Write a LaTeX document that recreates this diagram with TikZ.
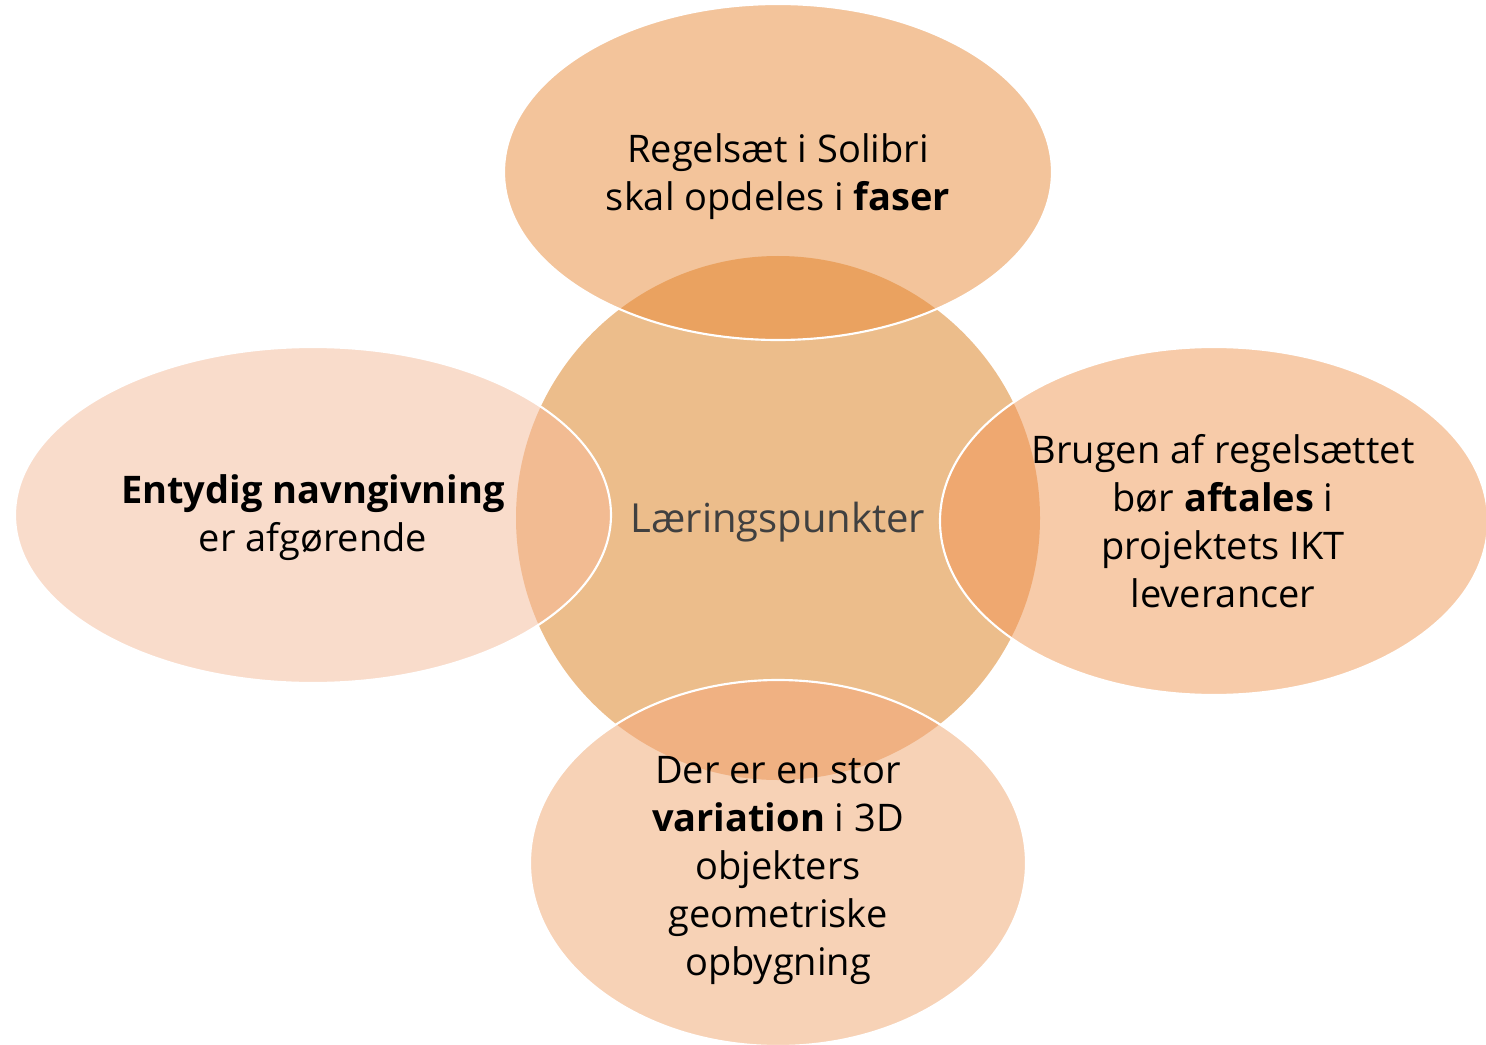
\documentclass[tikz,border=0pt]{standalone}
\usepackage{fontspec}
\setmainfont{Open Sans}
\definecolor{midfill}{HTML}{ECBD8B}
\definecolor{topfill}{HTML}{F3C49B}
\definecolor{topmix}{HTML}{EAA260}
\definecolor{leftfill}{HTML}{F9DCCB}
\definecolor{leftmix}{HTML}{F2BB92}
\definecolor{rightfill}{HTML}{F7CBA9}
\definecolor{rightmix}{HTML}{EFA870}
\definecolor{botfill}{HTML}{F7D2B6}
\definecolor{botmix}{HTML}{F0B182}
\definecolor{midtext}{HTML}{404040}
\tikzset{
  rim/.style={draw=white, line width=1.6pt},
  txt/.style={align=center, font=\fontsize{28.5}{36}\selectfont},
}
\begin{document}
\begin{tikzpicture}[x=0.75pt,y=-0.75pt]
\useasboundingbox (0,0) rectangle (1486,1045);

% midt
\fill[midfill] (778,518) circle [radius=262];

% ellipser
\fill[topfill] (778,172) ellipse [x radius=274, y radius=168];
\fill[leftfill] (313,515) ellipse [x radius=298, y radius=168];
\fill[rightfill] (1214,521) ellipse [x radius=274, y radius=174];
\fill[botfill] (778,863) ellipse [x radius=248, y radius=183];

% overlap med cirklen
\begin{scope}
  \clip (778,518) circle [radius=262];
  \fill[topmix] (778,172) ellipse [x radius=274, y radius=168];
  \fill[leftmix] (313,515) ellipse [x radius=298, y radius=168];
  \fill[rightmix] (1214,521) ellipse [x radius=274, y radius=174];
  \fill[botmix] (778,863) ellipse [x radius=248, y radius=183];
\end{scope}

\draw[rim] (778,172) ellipse [x radius=274, y radius=168];
\draw[rim] (313,515) ellipse [x radius=298, y radius=168];
\draw[rim] (1214,521) ellipse [x radius=274, y radius=174];
\draw[rim] (778,863) ellipse [x radius=248, y radius=183];

% tekster
\node[txt, text=midtext, font=\fontsize{30}{36}\selectfont] (mid) at (778,522) {Læringspunkter};
\node[txt] (top) at (778,177) {Regelsæt i Solibri\\skal opdeles i \textbf{faser}};
\node[txt] (left) at (313,518) {\textbf{Entydig navngivning}\\er afgørende};
\node[txt] (right) at (1223,521) {Brugen af regelsættet\\bør \textbf{aftales} i\\projektets IKT\\leverancer};
\node[txt] (bot) at (778,870) {Der er en stor\\\textbf{variation} i 3D\\objekters\\geometriske\\opbygning};

\end{tikzpicture}
\end{document}
